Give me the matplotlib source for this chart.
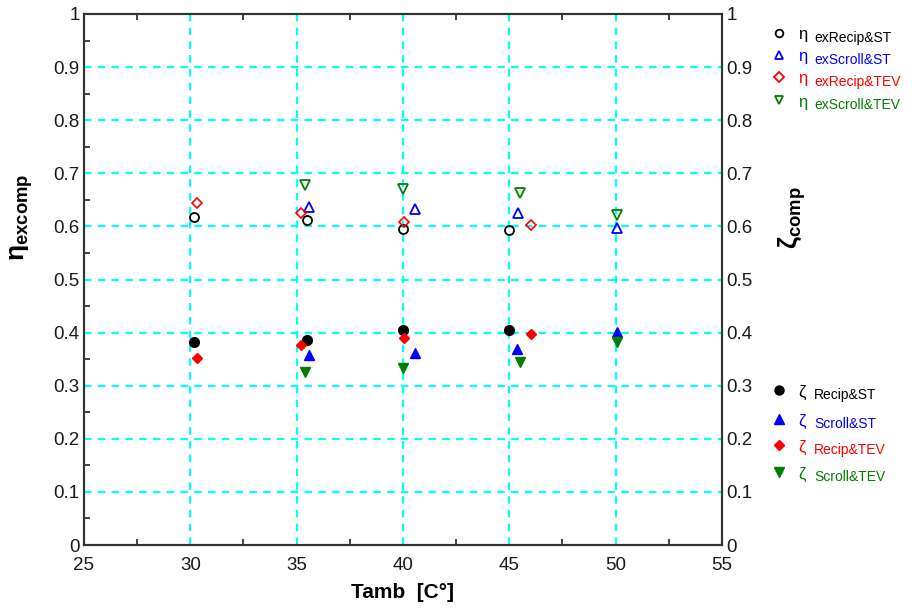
import matplotlib
matplotlib.use("Agg")
import matplotlib.pyplot as plt
from matplotlib.ticker import MultipleLocator

plt.rcParams['font.family'] = ['Liberation Sans', 'DejaVu Sans']
plt.rcParams['mathtext.fontset'] = 'custom'
plt.rcParams['mathtext.rm'] = 'Liberation Sans'
plt.rcParams['mathtext.it'] = 'Liberation Sans:italic'
plt.rcParams['mathtext.bf'] = 'Liberation Sans:bold'

# ---- data ----
# exergy efficiency eta (open markers)
x_eta_recip_st = [30.15, 35.5, 40.0, 45.0]
eta_recip_st = [0.618, 0.612, 0.595, 0.594]
x_eta_scroll_st = [35.6, 40.55, 45.4, 50.05]
eta_scroll_st = [0.637, 0.632, 0.626, 0.597]
x_eta_recip_tev = [30.3, 35.2, 40.05, 46.0]
eta_recip_tev = [0.645, 0.625, 0.609, 0.603]
x_eta_scroll_tev = [35.4, 40.0, 45.5, 50.05]
eta_scroll_tev = [0.678, 0.670, 0.662, 0.621]

# zeta (filled markers)
x_z_recip_st = [30.15, 35.5, 40.0, 45.0]
z_recip_st = [0.383, 0.386, 0.405, 0.405]
x_z_scroll_st = [35.6, 40.55, 45.35, 50.05]
z_scroll_st = [0.358, 0.362, 0.370, 0.402]
x_z_recip_tev = [30.3, 35.2, 40.05, 46.0]
z_recip_tev = [0.353, 0.377, 0.389, 0.397]
x_z_scroll_tev = [35.4, 40.0, 45.5, 50.05]
z_scroll_tev = [0.326, 0.333, 0.345, 0.383]

x_ticks = [25, 30, 35, 40, 45, 50, 55]
y_ticks = [0, 0.1, 0.2, 0.3, 0.4, 0.5, 0.6, 0.7, 0.8, 0.9, 1]
y_ticklabels = ['0', '0.1', '0.2', '0.3', '0.4', '0.5', '0.6', '0.7', '0.8', '0.9', '1']

BLACK = '#000000'
BLUE = '#0000FF'
RED = '#FF0000'
GREEN = '#008000'
CYAN = '#00FFFF'

fig = plt.figure(figsize=(9.2, 6.1), dpi=100)
ax = fig.add_axes([84/920, 65/610, (722-84)/920, (545-14)/610])
ax2 = ax.twinx()

ax.set_xlim(25, 55)
ax.set_ylim(0, 1)
ax2.set_ylim(0, 1)

ax.set_xticks(x_ticks)
ax.set_xticklabels([str(v) for v in x_ticks])
ax.set_yticks(y_ticks)
ax.set_yticklabels(y_ticklabels)
ax2.set_yticks(y_ticks)
ax2.set_yticklabels(y_ticklabels)
ax.xaxis.set_minor_locator(MultipleLocator(2.5))
ax.yaxis.set_minor_locator(MultipleLocator(0.05))

for v in x_ticks[1:-1]:
    ax.axvline(v, color=CYAN, lw=1.6, ls=(0, (3.4, 2.8)), zorder=0)
for v in y_ticks[1:-1]:
    ax.axhline(v, color=CYAN, lw=1.6, ls=(0, (3.4, 2.8)), zorder=0)

ax.tick_params(axis='both', which='major', length=0, labelsize=13.5,
               labelcolor='#1a1a1a')
ax.tick_params(axis='y', which='major', pad=3)
ax.tick_params(axis='x', which='major', pad=9)
ax.tick_params(axis='x', which='both', top=True, direction='in')
ax.tick_params(axis='y', which='minor', direction='in', length=4, width=1.2, color='#222222')
ax.tick_params(axis='x', which='minor', direction='in', length=4, width=1.2, color='#222222')
ax2.tick_params(axis='y', which='major', length=0, labelsize=13.5, pad=3,
                labelcolor='#1a1a1a')

for a in (ax, ax2):
    for s in a.spines.values():
        s.set_linewidth(1.5)
        s.set_color('#333333')

# open markers (eta)
ms_o = 6.5
ax.plot(x_eta_recip_st, eta_recip_st, 'o', mfc='none', mec=BLACK, ms=ms_o, mew=1.3, ls='none')
ax.plot(x_eta_scroll_st, eta_scroll_st, '^', mfc='none', mec=BLUE, ms=ms_o, mew=1.3, ls='none')
ax.plot(x_eta_recip_tev, eta_recip_tev, 'D', mfc='none', mec=RED, ms=5.5, mew=1.2, ls='none')
ax.plot(x_eta_scroll_tev, eta_scroll_tev, 'v', mfc='none', mec=GREEN, ms=ms_o, mew=1.3, ls='none')

# filled markers (zeta)
ax2.plot(x_z_recip_st, z_recip_st, 'o', color=BLACK, ms=7, ls='none')
ax2.plot(x_z_scroll_st, z_scroll_st, '^', color=BLUE, ms=7.5, ls='none')
ax2.plot(x_z_recip_tev, z_recip_tev, 'D', color=RED, ms=5.5, ls='none')
ax2.plot(x_z_scroll_tev, z_scroll_tev, 'v', color=GREEN, ms=7.5, ls='none')

# axis labels
ax.set_xlabel('Tamb  [C°]', fontsize=15, fontweight='bold', labelpad=6)
fig.text(22/920, 1 - 217/610, r'$\mathbf{\eta_{excomp}}$', rotation=90,
         fontsize=19, ha='center', va='center')
fig.text(792/920, 1 - 218/610, r'$\mathbf{\zeta_{comp}}$', rotation=90,
         fontsize=19, ha='center', va='center')

# hand-made legends (overlay in pixel coordinates)
lax = fig.add_axes([0, 0, 1, 1], facecolor='none')
lax.set_xlim(0, 920)
lax.set_ylim(610, 0)
lax.axis('off')

top_entries = [
    ('o', BLACK, 'exRecip&ST', 33),
    ('^', BLUE, 'exScroll&ST', 55),
    ('D', RED, 'exRecip&TEV', 77),
    ('v', GREEN, 'exScroll&TEV', 100),
]
for mk, col, lab, yy in top_entries:
    lax.plot([779], [yy], mk, mfc='none', mec=col, ms=5.5 if mk != 'D' else 5, mew=1.3)
    lax.text(798, yy + 2, 'η', color=col, fontsize=12, va='center', ha='left')
    lax.text(814, yy + 5, lab, color=col, fontsize=10, va='center', ha='left')

bot_entries = [
    ('o', BLACK, 'Recip&ST', 390),
    ('^', BLUE, 'Scroll&ST', 419),
    ('D', RED, 'Recip&TEV', 445),
    ('v', GREEN, 'Scroll&TEV', 472),
]
for mk, col, lab, yy in bot_entries:
    lax.plot([779], [yy], mk, color=col, ms=6.5 if mk != 'D' else 5.5)
    lax.text(798, yy + 2, 'ζ', color=col, fontsize=12, va='center', ha='left')
    lax.text(814, yy + 5, lab, color=col, fontsize=10, va='center', ha='left')

fig.savefig('out.png', dpi=100)
